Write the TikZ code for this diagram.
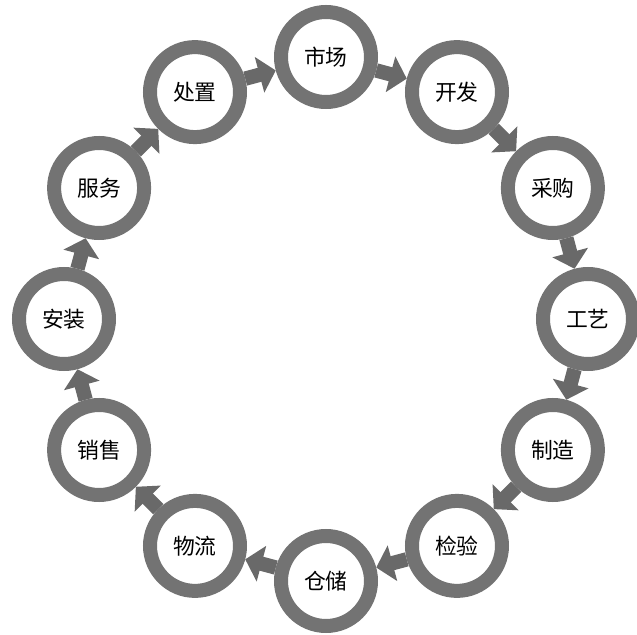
\documentclass[tikz,border=0pt]{standalone}
\usepackage{fontspec}
\newfontfamily\cjk{Noto Sans CJK SC}
\usepackage{tikz}
\usetikzlibrary{arrows.meta,shadows}
\definecolor{RingGray}{RGB}{115,115,115}
\definecolor{ArrowGray}{RGB}{105,105,105}

\begin{document}
\begin{tikzpicture}[
      stageRing/.style={circle,draw=RingGray,fill=white,line width=0.35cm,
                        minimum size=2.25cm,inner sep=0pt,
                        font=\cjk\fontsize{15.5}{18}\selectfont,
                        drop shadow={opacity=0.25,shadow xshift=1.5pt,shadow yshift=-1.5pt}},
      arFlow/.style={-{Triangle[length=0.42cm,width=0.9cm]},line width=0.36cm,ArrowGray}
    ]

    % canvas with the reference margins
    \useasboundingbox (-8.15,-7.9) rectangle (7.775,7.975);

    % Stages of the cycle, clockwise from the top
    \node(sc)[stageRing] at (90:6.55)  {市场};
    \node(kf)[stageRing] at (60:6.55)  {开发};
    \node(cg)[stageRing] at (30:6.55)  {采购};
    \node(gy)[stageRing] at (0:6.55)   {工艺};
    \node(zz)[stageRing] at (-30:6.55) {制造};
    \node(jy)[stageRing] at (-60:6.55) {检验};
    \node(cc)[stageRing] at (-90:6.55) {仓储};
    \node(wl)[stageRing] at (-120:6.55){物流};
    \node(xs)[stageRing] at (-150:6.55){销售};
    \node(az)[stageRing] at (180:6.55) {安装};
    \node(fw)[stageRing] at (150:6.55) {服务};
    \node(cz)[stageRing] at (120:6.55) {处置};

    % Clockwise flow arrows
    \draw[arFlow] (sc) -- (kf);
    \draw[arFlow] (kf) -- (cg);
    \draw[arFlow] (cg) -- (gy);
    \draw[arFlow] (gy) -- (zz);
    \draw[arFlow] (zz) -- (jy);
    \draw[arFlow] (jy) -- (cc);
    \draw[arFlow] (cc) -- (wl);
    \draw[arFlow] (wl) -- (xs);
    \draw[arFlow] (xs) -- (az);
    \draw[arFlow] (az) -- (fw);
    \draw[arFlow] (fw) -- (cz);
    \draw[arFlow] (cz) -- (sc);
  \end{tikzpicture}
\end{document}
